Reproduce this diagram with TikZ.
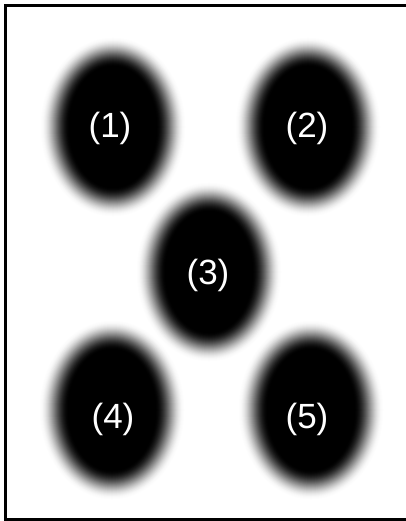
\documentclass[tikz,border=0pt]{standalone}
\usepackage{fontspec}
\setmainfont{Liberation Sans}
\begin{document}
\begin{tikzpicture}[x=1pt,y=-1pt,
  lbl/.style={text=white,anchor=base,inner sep=0pt,font=\fontsize{35}{40}\selectfont},
  frame/.style={draw=black,line width=3pt}]
\useasboundingbox (0,0) rectangle (406,521);
\clip (0,0) rectangle (406,521);
\fill[white] (0,0) rectangle (406,521);
\foreach \cx/\cy in {113/127, 308/127, 209/272, 112/410, 311/410} {
  \foreach \t in {30,29.5,...,0} {
    \pgfmathsetmacro\d{50*(1+cos(180*\t/30))}
    \fill[black!\d] (\cx,\cy) ellipse ({43+\t} and {60+\t});
  }
}
\node[lbl] (n1) at (110,138) {(1)};
\node[lbl] (n2) at (307,137.5) {(2)};
\node[lbl] (n3) at (208,284) {(3)};
\node[lbl] (n4) at (113,428) {(4)};
\node[lbl] (n5) at (307,428) {(5)};
\draw[frame] (5.5,5.5) rectangle (412,519.5);
\end{tikzpicture}
\end{document}
